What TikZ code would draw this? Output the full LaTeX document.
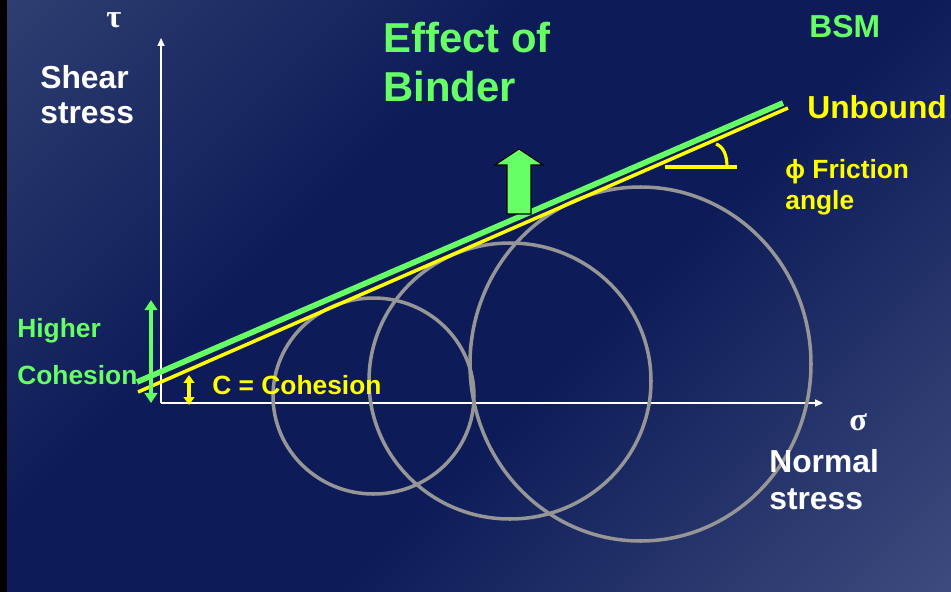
\documentclass[tikz,border=0pt]{standalone}
\usepackage{fontspec}
\setmainfont{Liberation Sans}
\newfontfamily\greekfont{Liberation Serif}
\usetikzlibrary{arrows.meta}
\definecolor{bgA}{RGB}{46,62,112}
\definecolor{bgD}{RGB}{13,28,88}
\definecolor{bgB}{RGB}{60,74,124}
\definecolor{bgreen}{RGB}{102,255,102}
\definecolor{byellow}{RGB}{255,255,0}
\definecolor{cgray}{RGB}{150,150,150}
\pgfdeclarehorizontalshading{bgshade}{100bp}{color(0bp)=(bgA); color(15bp)=(bgA); color(39bp)=(bgD); color(57bp)=(bgD); color(85bp)=(bgB); color(100bp)=(bgB)}
\begin{document}
\begin{tikzpicture}[x=0.02cm, y=-0.02cm,
  big/.style={inner sep=0pt, anchor=base west, font=\bfseries\fontsize{18.1}{20}\selectfont},
  small/.style={inner sep=0pt, anchor=base west, font=\bfseries\fontsize{15}{16}\selectfont},
  title/.style={inner sep=0pt, anchor=base west, text=bgreen, font=\bfseries\fontsize{23.8}{26}\selectfont},
  greek/.style={inner sep=0pt, anchor=base west, text=white, font=\greekfont\bfseries\fontsize{18.5}{20}\selectfont},
  axis/.style={white, line width=0.85pt, -{Triangle[width=4pt,length=4.5pt]}},
  circ/.style={cgray, line width=2pt},
  gline/.style={bgreen, line width=3.2pt},
  yline/.style={byellow, line width=2pt},
  garrow/.style={bgreen, line width=2.2pt, {Triangle[width=7pt,length=5.7pt]}-{Triangle[width=7pt,length=5.7pt]}},
  yarrow/.style={byellow, line width=2.1pt, {Triangle[width=6pt,length=4.5pt]}-{Triangle[width=6pt,length=4.5pt]}}
]
\useasboundingbox (0,0) rectangle (951,592);
\shade[shading=bgshade, shading angle=-45] (0,0) rectangle (951,592);
\fill[black] (0,0) rectangle (7,592);

% axes
\coordinate (O) at (161,403);
\coordinate (ytop) at (161,38);
\coordinate (xend) at (823,403);
\draw[axis] (O) -- (ytop);
\draw[axis] (O) -- (xend);

% Mohr circles
\draw[circ] (373.5,396) ellipse [x radius=100.5, y radius=98];
\draw[circ] (510,381) ellipse [x radius=141, y radius=138];
\draw[circ] (640.5,364) ellipse [x radius=170.5, y radius=177];

% failure envelopes
\coordinate (g1) at (137,382);
\coordinate (g2) at (783,103);
\coordinate (y1) at (138,392);
\coordinate (y2) at (788,108);
\draw[yline] (y1) -- (y2);
\draw[gline] (g1) -- (g2);

% friction angle
\coordinate (h1) at (665,167);
\coordinate (h2) at (737,167);
\draw[byellow, line width=2.3pt] (h1) -- (h2);
\coordinate (a1) at (716,144);
\coordinate (a2) at (727,167);
\draw[byellow, line width=1.8pt] (a1) .. controls (724,147) and (727,156) .. (a2);

% cohesion arrows
\coordinate (ga) at (151,300);
\coordinate (gb) at (151,403);
\draw[garrow] (ga) -- (gb);
\coordinate (ya) at (189,375);
\coordinate (yb) at (189,405);
\draw[yarrow] (ya) -- (yb);

% effect arrow
\draw[fill=bgreen, draw=black, line width=0.6pt] (519,149) -- (543,165) -- (531,165) -- (531,214) -- (507,214) -- (507,165) -- (495,165) -- cycle;

% labels
\node[big, text=white] (shear) at (40,88) {Shear};
\node[big, text=white] (stressA) at (40,123) {stress};
\node[greek] (tau) at (106,27) {τ};
\node[title] (effect) at (383,52) {Effect of};
\node[title] (binder) at (383,101) {Binder};
\node[big, text=bgreen] (bsm) at (809,37) {BSM};
\node[big, text=byellow] (unbound) at (807,118) {Unbound};
\node[small, text=byellow] (friction) at (785,178) {ϕ Friction};
\node[small, text=byellow] (angle) at (785,209) {angle};
\node[small, text=bgreen] (higher) at (17,337) {Higher};
\node[small, text=bgreen] (cohesion) at (17,384) {Cohesion};
\node[small, text=byellow] (ccoh) at (212,394) {C = Cohesion};
\node[greek] (sigma) at (849,430) {σ};
\node[big, text=white] (normal) at (769,472) {Normal};
\node[big, text=white] (stressB) at (769,509) {stress};
\end{tikzpicture}
\end{document}
